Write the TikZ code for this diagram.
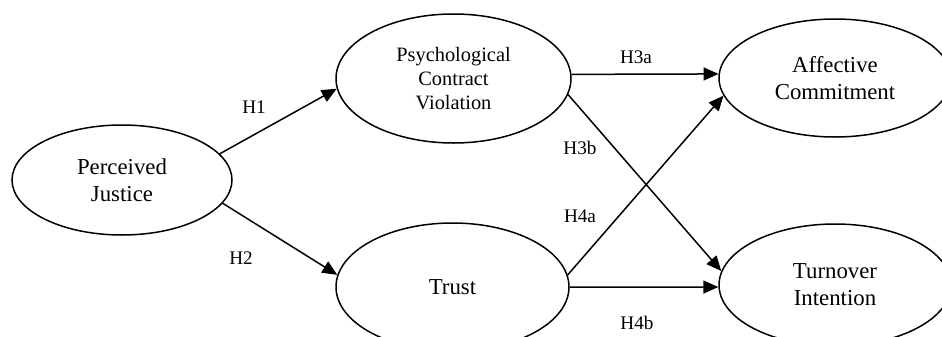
\documentclass[tikz,border=0pt]{standalone}
\usepackage{fontspec}
\setmainfont{Liberation Serif}
\usetikzlibrary{shapes.geometric, arrows.meta}

\begin{document}
\begin{tikzpicture}[
    x=0.5pt, y=-0.5pt,
    construct/.style={ellipse, draw, line width=0.75pt, inner sep=0pt, align=center, font=\fontsize{11.4}{13.6}\selectfont},
    arrow/.style={-{Triangle[length=7.5pt, width=6.5pt]}, line width=0.75pt},
    hyp/.style={font=\fontsize{9.6}{11}\selectfont}
]
    \clip (0,0) rectangle (942,337);

    % Constructs
    \node[construct, minimum width=110pt, minimum height=55pt] (justice) at (122,180) {Perceived\\Justice};
    \node[construct, minimum width=117.5pt, minimum height=64.5pt, font=\fontsize{10.2}{12.2}\selectfont] (violation) at (453.5,78.5) {Psychological\\Contract\\Violation};
    \node[construct, minimum width=116.5pt, minimum height=64pt] (trust) at (452.5,287) {Trust};
    \node[construct, minimum width=116pt, minimum height=59pt] (commitment) at (835,78) {Affective\\Commitment};
    \node[construct, minimum width=116pt, minimum height=61pt] (turnover) at (835,285) {Turnover\\Intention};

    % Paths
    \draw[arrow] (justice.15) -- (violation.185);
    \draw[arrow] (justice.347) -- (trust.174);
    \draw[arrow] (violation.2) -- (commitment.178);
    \draw[arrow] (violation.352) -- (turnover.173);
    \draw[arrow] (trust.6) -- (commitment.189);
    \draw[arrow] (trust.0) -- (turnover.181);

    % Hypotheses
    \node[hyp] (h1) at (254,107) {H1};
    \node[hyp] (h2) at (241,258) {H2};
    \node[hyp] (h3a) at (636,57) {H3a};
    \node[hyp] (h3b) at (580,148) {H3b};
    \node[hyp] (h4a) at (580,216) {H4a};
    \node[hyp] (h4b) at (637,323) {H4b};
\end{tikzpicture}
\end{document}
